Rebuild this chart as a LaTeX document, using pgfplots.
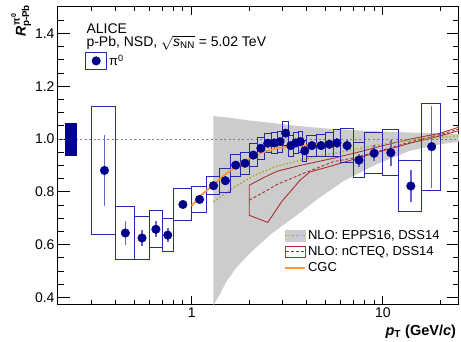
\documentclass[border=0pt]{standalone}
\usepackage{fontspec}
\setmainfont{Liberation Sans}
\usepackage{amsmath}
\usepackage{pgfplots}
\usepackage{pgfplotstable}
\pgfplotsset{compat=1.18}

\definecolor{mk}{RGB}{0,0,140}
\definecolor{bx}{RGB}{40,40,175}
\definecolor{st}{RGB}{100,100,205}
\definecolor{nct}{RGB}{170,50,50}
\definecolor{epp}{RGB}{175,175,40}
\definecolor{cgc}{RGB}{255,150,50}
\definecolor{band}{RGB}{204,204,204}

\pgfplotstableread{
x y xl xh stat sys
0.35 0.881 0.3 0.4 0.133 0.244
0.45 0.644 0.4 0.5 0.046 0.100
0.55 0.625 0.5 0.6 0.030 0.080
0.65 0.658 0.6 0.7 0.030 0.070
0.75 0.636 0.7 0.8 0.025 0.063
0.9 0.752 0.8 1.0 0.015 0.059
1.1 0.771 1.0 1.2 0.012 0.050
1.3 0.823 1.2 1.4 0.010 0.035
1.5 0.842 1.4 1.6 0.010 0.045
1.7 0.901 1.6 1.8 0.010 0.042
1.9 0.908 1.8 2.0 0.010 0.042
2.1 0.939 2.0 2.2 0.010 0.043
2.3 0.965 2.2 2.4 0.010 0.041
2.5 0.984 2.4 2.6 0.012 0.037
2.7 0.985 2.6 2.8 0.012 0.040
2.9 0.990 2.8 3.0 0.012 0.040
3.1 1.022 3.0 3.2 0.015 0.045
3.3 0.975 3.2 3.4 0.015 0.040
3.5 0.985 3.4 3.6 0.015 0.040
3.7 0.990 3.6 3.8 0.016 0.040
3.9 0.955 3.8 4.0 0.016 0.040
4.25 0.975 4.0 4.5 0.015 0.040
4.75 0.975 4.5 5.0 0.016 0.042
5.25 0.980 5.0 5.5 0.017 0.045
5.75 0.985 5.5 6.0 0.020 0.050
6.5 0.975 6.0 7.0 0.020 0.065
7.5 0.920 7.0 8.0 0.025 0.066
9.0 0.946 8.0 10.0 0.030 0.078
11.0 0.948 10.0 12.0 0.050 0.087
14.0 0.822 12.0 16.0 0.060 0.095
18.0 0.971 16.0 20.0 0.155 0.165
}\pizero

\begin{document}
\begin{tikzpicture}
\useasboundingbox (0,0) rectangle (461pt,341pt);
\pgfplotstablegetrowsof{\pizero}
\pgfmathtruncatemacro{\nrows}{\pgfplotsretval-1}
\begin{axis}[
  name=ax,
  at={(58pt,37pt)}, anchor=south west,
  scale only axis, width=401pt, height=297pt,
  xmode=log, xmin=0.2, xmax=25, ymin=0.375, ymax=1.5,
  axis line style={line width=1pt},
  xtick={1,10}, xticklabels={1,10},
  minor xtick={0.3,0.4,0.5,0.6,0.7,0.8,0.9,2,3,4,5,6,7,8,9,20},
  ytick={0.4,0.6,0.8,1.0,1.2,1.4},
  minor ytick={0.45,0.5,0.55,0.65,0.7,0.75,0.85,0.9,0.95,1.05,1.1,1.15,1.25,1.3,1.35,1.45},
  yticklabel style={/pgf/number format/.cd, fixed, fixed zerofill, precision=1},
  /pgf/number format/assume math mode=true,
  tick label style={font=\fontsize{14}{16}\selectfont},
  tick style={black, line width=0.9pt},
  major tick length=12pt, minor tick length=6pt,
  every x tick/.append style={/pgfplots/major tick length=8pt,/pgfplots/minor tick length=4.5pt},
  legend style={at={(rel axis cs:0.5636,0.2559)}, anchor=north west, draw=none, fill=none,
    font=\fontsize{13}{15}\selectfont, inner sep=0pt, row sep=1.5pt,
    cells={anchor=west}},
  legend cell align=left,
]
% EPPS16 uncertainty band
\addplot[fill=band, draw=none, forget plot] coordinates {
 (1.3,1.087) (1.6,1.080) (2.0,1.070) (2.7,1.060) (3.5,1.050) (5,1.040) (7,1.033) (10,1.028) (15,1.024) (25,1.019)
 (25,0.990) (20,0.980) (13.8,0.955) (9.3,0.905) (6.2,0.840) (4.5,0.770) (3.6,0.715) (2.6,0.640) (2.0,0.565) (1.7,0.510) (1.52,0.460) (1.4,0.410) (1.3,0.370)
} -- cycle;
% unity line
\addplot[gray, dash pattern=on 2pt off 2.5pt, line width=1pt, forget plot] coordinates {(0.2,1) (25,1)};
% nCTEQ band outline
\addplot[nct, line width=0.9pt, forget plot] coordinates {
 (2.0,0.825) (2.4,0.855) (2.8,0.878) (3.7,0.900) (5.5,0.927) (7.6,0.952) (10,0.975) (14,1.000) (20,1.022) (25,1.045)
 (25,1.032) (20,1.012) (14,0.985) (9,0.946) (5.5,0.900) (4.15,0.875) (3.7,0.845) (2.95,0.762) (2.5,0.684) (2.0,0.711)
} -- cycle;
\addplot[nct, line width=0.9pt, dash pattern=on 3pt off 2pt, forget plot] coordinates {
 (2.0,0.768) (2.4,0.800) (2.8,0.828) (3.7,0.865) (5.5,0.914) (7,0.928) (10,0.958) (14,0.990) (20,1.017) (25,1.038)
};
% EPPS16 central
\addplot[epp, line width=1.6pt, dotted, forget plot] coordinates {
 (1.3,0.762) (1.68,0.819) (2.14,0.863) (2.72,0.895) (3.46,0.914) (4.4,0.933) (6.2,0.952) (9.27,0.977) (13.8,0.996) (25,1.012)
};
% normalisation box
\addplot[fill=mk, draw=mk, forget plot] coordinates {(0.218,0.94) (0.248,0.94) (0.248,1.06) (0.218,1.06)} -- cycle;
% systematic boxes
\pgfplotsforeachungrouped \i in {0,...,\nrows}{
  \pgfplotstablegetelem{\i}{y}\of\pizero \let\yy\pgfplotsretval
  \pgfplotstablegetelem{\i}{sys}\of\pizero \let\sy\pgfplotsretval
  \pgfplotstablegetelem{\i}{xl}\of\pizero \let\bxl\pgfplotsretval
  \pgfplotstablegetelem{\i}{xh}\of\pizero \let\bxh\pgfplotsretval
  \pgfmathsetmacro{\ylo}{\yy-\sy}
  \pgfmathsetmacro{\yhi}{\yy+\sy}
  \edef\doplot{\noexpand\addplot[bx, line width=1pt, forget plot] coordinates {(\bxl,\ylo) (\bxh,\ylo) (\bxh,\yhi) (\bxl,\yhi)} -- cycle;}
  \doplot
}
% CGC
\addplot[cgc, line width=1.8pt, forget plot] coordinates {
 (1.0,0.747) (1.1,0.782) (1.29,0.825) (1.52,0.870) (1.86,0.914) (2.27,0.946) (2.78,0.965) (3.39,0.973) (4.15,0.977) (4.5,0.980) (4.7,0.986) (4.9,0.982) (5.1,0.978) (5.3,0.984) (5.6,0.983) (5.9,0.977) (6.0,0.978)
};
% data points
\addplot[only marks, mark=*, mark size=4.3pt, mk, forget plot,
  error bars/.cd, y dir=both, y explicit, error bar style={st, line width=1.5pt}, error mark=none]
  table[x=x, y=y, y error=stat] {\pizero};
% legend
\addlegendimage{legend image code/.code={\fill[band] (0pt,-5.5pt) rectangle (20pt,5.5pt); \draw[epp, dotted, line width=1.6pt] (0pt,0pt) -- (20pt,0pt);}}
\addlegendentry{NLO: EPPS16, DSS14}
\addlegendimage{legend image code/.code={\draw[nct, line width=0.9pt] (0pt,-5.5pt) rectangle (20pt,5.5pt); \draw[nct, line width=0.9pt, dash pattern=on 3pt off 2pt] (1pt,0pt) -- (19pt,0pt);}}
\addlegendentry{NLO: nCTEQ, DSS14}
\addlegendimage{legend image code/.code={\draw[cgc, line width=1.8pt] (0pt,0pt) -- (20pt,0pt);}}
\addlegendentry{CGC}
\end{axis}
\begin{axis}[
  at={(58pt,37pt)}, anchor=south west,
  scale only axis, width=401pt, height=297pt, hide axis,
  xmin=0, xmax=1, ymin=0, ymax=1,
  legend style={at={(rel axis cs:0.0673,0.8495)}, anchor=north west, draw=none, fill=none,
    font=\fontsize{13}{15}\selectfont, inner sep=0pt},
]
\addlegendimage{legend image code/.code={\draw[bx, line width=1pt] (0pt,-8.5pt) rectangle (21pt,8.5pt); \fill[mk] (10.5pt,0pt) circle (4.3pt);}}
\addlegendentry{π\textsuperscript{0}}
\end{axis}
\node[anchor=base west, font=\fontsize{14}{16}\selectfont] at (83pt,307.7pt) {ALICE};
\node[anchor=base west, font=\fontsize{14}{16}\selectfont] at (83pt,294.3pt) {p-Pb, NSD, $\sqrt{\textit{s}_{\text{NN}}}$ = 5.02 TeV};
\node[rotate=90, anchor=base east, font=\fontsize{14}{16}\selectfont] at (25.5pt,340pt) {$\textbf{\textit{R}}^{\,\textbf{π}^{\textbf{0}}}_{\textbf{p-Pb}}$};
\node[anchor=base east, font=\fontsize{14.5}{16}\selectfont\bfseries] at (459.5pt,5.5pt) {\textit{p}\textsubscript{T} (GeV/\textit{c})};
\end{tikzpicture}
\end{document}
